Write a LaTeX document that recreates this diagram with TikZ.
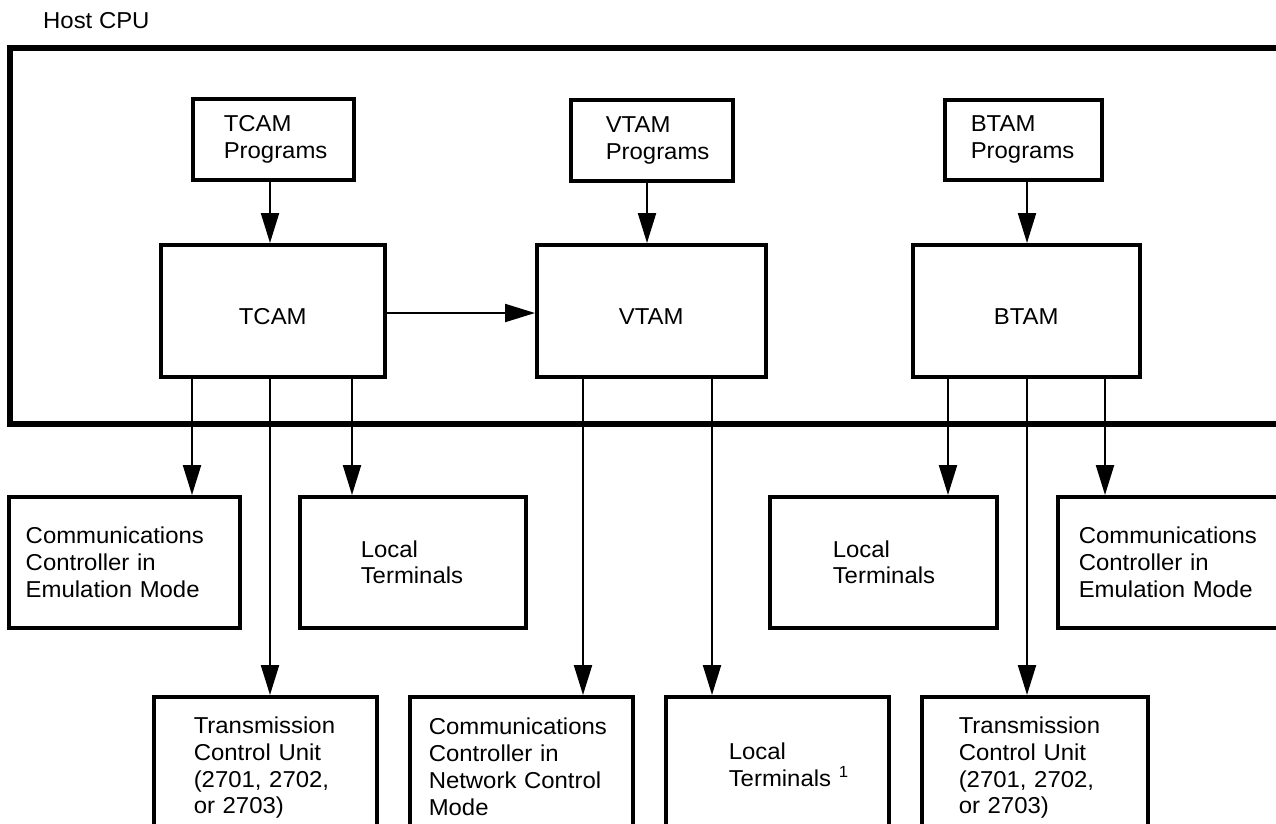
\documentclass[tikz,border=0pt]{standalone}
\usepackage{fontspec}
\setmainfont{Liberation Sans}[FakeStretch=1.04]
\usetikzlibrary{arrows.meta}
\begin{document}
\begin{tikzpicture}[x=1pt,y=-1pt,
  font=\fontsize{23}{26.7}\selectfont,
  box/.style={draw, line width=3.5pt, inner xsep=0pt, inner ysep=0pt, anchor=north west},
  lbox/.style n args={3}{box, text width=#1pt, minimum height=#2pt, align=left,
    execute at begin node={\leftskip=#3pt\relax}},
  cbox/.style={box, minimum width=#1pt, minimum height=132pt, text height=28pt, text depth=0pt},
  arr/.style={line width=2.2pt, -{Triangle[length=30pt,width=18pt]}},
  frame/.style={line width=6pt}]
\useasboundingbox (0,0) rectangle (1276,823);
\fill[white] (0,0) rectangle (1276,823);
\clip (0,0) rectangle (1276,823);

% host label and frame
\node[anchor=base west, inner sep=0pt] (hostlbl) at (43,28) {Host CPU};
\draw[frame] (1290,47.5) -- (10,47.5) -- (10,424) -- (1290,424);

% program boxes
\node[lbox={161}{81}{31}] (tp) at (191,97) {TCAM\\Programs};
\node[lbox={162}{81}{35}] (vp) at (569,98) {VTAM\\Programs};
\node[lbox={157}{80}{26}] (bp) at (943,98) {BTAM\\Programs};

% access methods
\node[cbox=224] (tc) at (159,243) {TCAM};
\node[cbox=229] (vt) at (535,243) {VTAM};
\node[cbox=227] (bt) at (911,243) {BTAM};

% middle row
\node[lbox={231}{131}{17}] (cce1) at (7,495) {Communications\\Controller in\\Emulation Mode};
\node[lbox={226}{131}{61}] (lt1) at (298,495) {Local\\Terminals};
\node[lbox={227}{131}{63}] (lt2) at (768,495) {Local\\Terminals};
\node[lbox={232}{131}{21}] (cce2) at (1056,495) {Communications\\Controller in\\Emulation Mode};

% bottom row
\node[lbox={223}{142}{40}] (tcu1) at (152,695) {Transmission\\Control Unit\\(2701, 2702,\\or 2703)};
\node[lbox={223}{140}{19}] (ccn) at (408,695) {Communications\\Controller in\\Network Control\\Mode};
\node[lbox={223}{136}{63}] (lt3) at (664,695) {Local\\Terminals \textsuperscript{1}};
\node[lbox={226}{142}{37}] (tcu2) at (920,695) {Transmission\\Control Unit\\(2701, 2702,\\or 2703)};

% connector columns
\coordinate (xa0) at (192,0);
\coordinate (xa1) at (270,0);
\coordinate (xa2) at (352,0);
\coordinate (xv0) at (647,0);
\coordinate (xv1) at (583,0);
\coordinate (xv2) at (712,0);
\coordinate (xb0) at (948,0);
\coordinate (xb1) at (1027,0);
\coordinate (xb2) at (1105,0);
\coordinate (yh) at (0,313);

% connectors
\draw[arr] (tp.south -| xa1) -- (tc.north -| xa1);
\draw[arr] (vp.south -| xv0) -- (vt.north -| xv0);
\draw[arr] (bp.south -| xb1) -- (bt.north -| xb1);
\draw[arr] (tc.east |- yh) -- (vt.west |- yh);

\draw[arr] (tc.south -| xa0) -- (cce1.north -| xa0);
\draw[arr] (tc.south -| xa1) -- (tcu1.north -| xa1);
\draw[arr] (tc.south -| xa2) -- (lt1.north -| xa2);

\draw[arr] (vt.south -| xv1) -- (ccn.north -| xv1);
\draw[arr] (vt.south -| xv2) -- (lt3.north -| xv2);

\draw[arr] (bt.south -| xb0) -- (lt2.north -| xb0);
\draw[arr] (bt.south -| xb1) -- (tcu2.north -| xb1);
\draw[arr] (bt.south -| xb2) -- (cce2.north -| xb2);
\end{tikzpicture}
\end{document}
